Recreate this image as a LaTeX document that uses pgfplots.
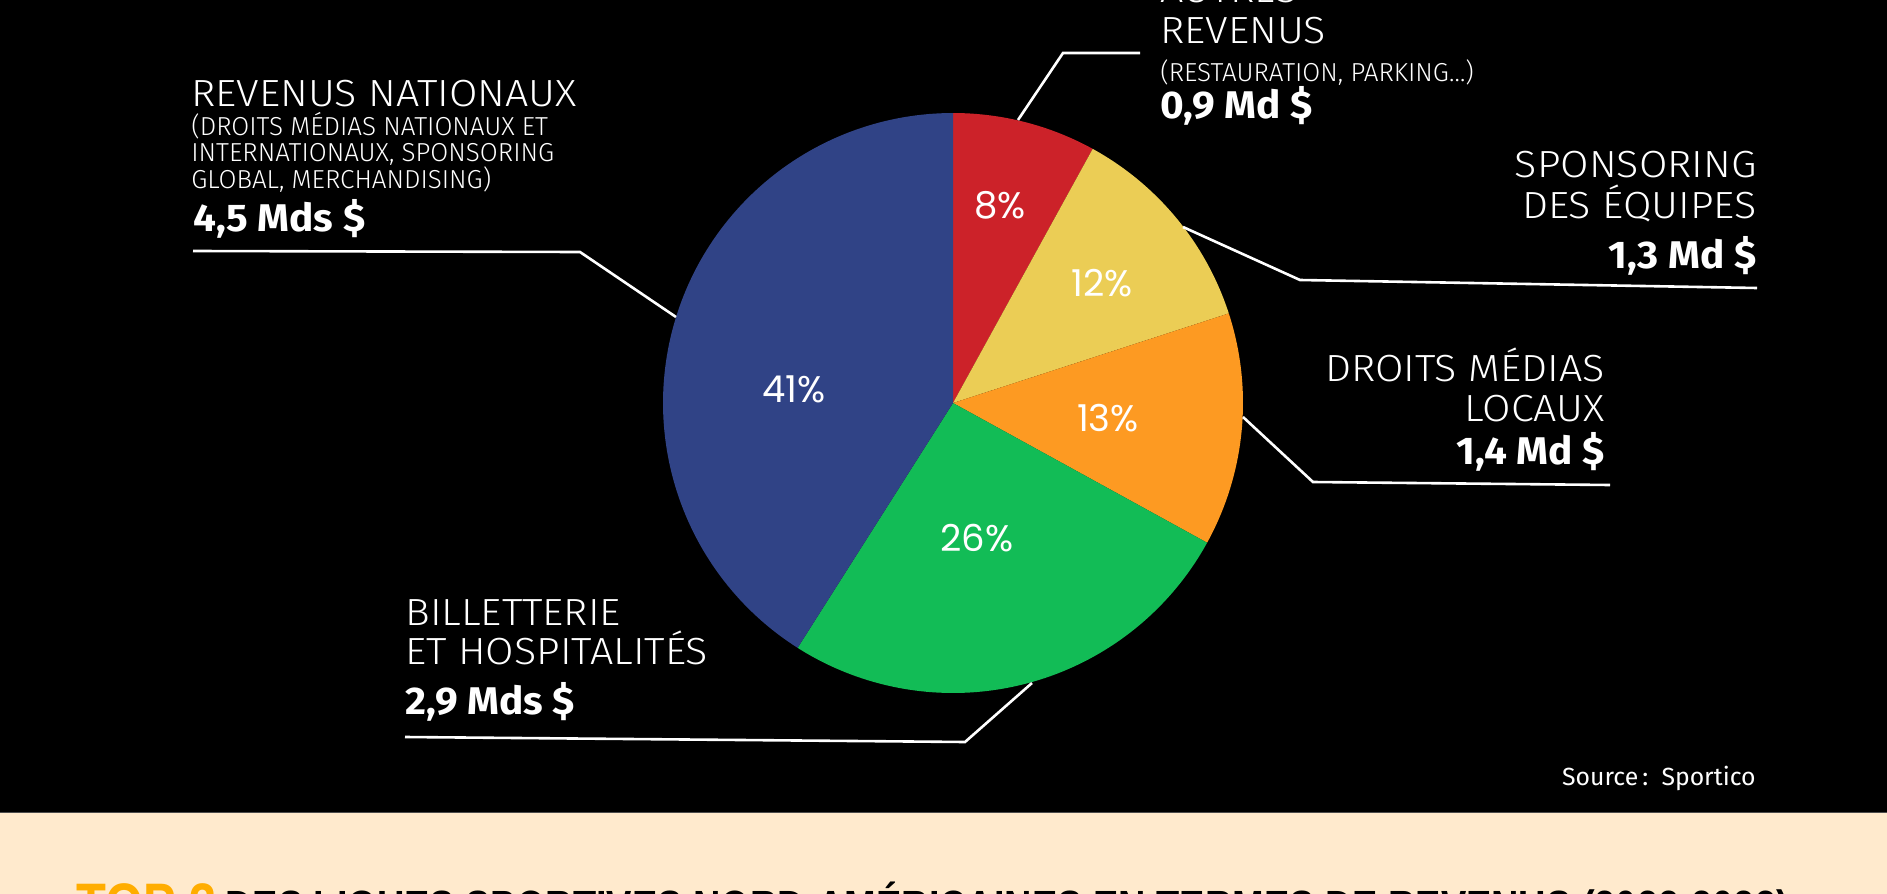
\documentclass[border=0pt]{standalone}
\usepackage{pgfplots}
\pgfplotsset{compat=1.18}
\usepackage{graphicx}
\usepackage{fontspec}
\setmainfont{Fira Sans}[UprightFont=* Light, BoldFont=* Bold]
\newfontfamily\popp{Poppins}
\newfontfamily\regfont{Fira Sans}
\newfontfamily\heavyfont{Liberation Sans}[BoldFont=Liberation Sans Bold]
\definecolor{cred}{HTML}{CC2229}
\definecolor{cyellow}{HTML}{EBCD55}
\definecolor{corange}{HTML}{FD9A22}
\definecolor{cgreen}{HTML}{12BC56}
\definecolor{cblue}{HTML}{304386}
\definecolor{cbeige}{HTML}{FFEACD}
\definecolor{ctop}{HTML}{FFAD00}
% shares in percent
\def\pA{8}\def\pB{12}\def\pC{13}\def\pD{26}\def\pE{41}
\pgfmathsetmacro\aO{90}
\pgfmathsetmacro\aA{\aO-3.6*\pA}
\pgfmathsetmacro\aB{\aA-3.6*\pB}
\pgfmathsetmacro\aC{\aB-3.6*\pC}
\pgfmathsetmacro\aD{\aC-3.6*\pD}
\pgfmathsetmacro\aE{\aD-3.6*\pE}
\newcommand{\lblbig}{\fontsize{18.9}{21}\selectfont}
\newcommand{\lblsub}{\fontsize{13}{15}\selectfont}
\newcommand{\lblval}{\bfseries\fontsize{19.3}{21}\selectfont}
\newcommand{\wide}[1]{\scalebox{1.09}[1]{#1}}
\newcommand{\vwide}[1]{\scalebox{1.05}[1]{#1}}
\begin{document}
\begin{tikzpicture}
\begin{axis}[name=ax,
  width=943.5pt, height=447pt, scale only axis,
  xmin=0, xmax=1887, ymin=0, ymax=894, y dir=reverse,
  hide axis, clip=false]
\fill[black] (0,0) rectangle (1887,812);
\fill[cbeige] (0,812) rectangle (1887,894);
\draw[gray!60!black, line width=0.6pt] (0,812.5) -- (1887,812.5);
% pie
\addplot[draw=none, fill=cred, domain=\aA:\aO, samples=60, variable=\t] ({953+290*cos(\t)},{403-290*sin(\t)}) -- (953,403) -- cycle;
\addplot[draw=none, fill=cyellow, domain=\aB:\aA, samples=60, variable=\t] ({953+290*cos(\t)},{403-290*sin(\t)}) -- (953,403) -- cycle;
\addplot[draw=none, fill=corange, domain=\aC:\aB, samples=60, variable=\t] ({953+290*cos(\t)},{403-290*sin(\t)}) -- (953,403) -- cycle;
\addplot[draw=none, fill=cgreen, domain=\aD:\aC, samples=80, variable=\t] ({953+290*cos(\t)},{403-290*sin(\t)}) -- (953,403) -- cycle;
\addplot[draw=none, fill=cblue, domain=\aE:\aD, samples=120, variable=\t] ({953+290*cos(\t)},{403-290*sin(\t)}) -- (953,403) -- cycle;
% percentages
\begin{scope}[every node/.style={text=white, font=\popp\fontsize{18.5}{18.5}\selectfont}]
\node at (1000,205) {8\%};
\node at (1102,283) {12\%};
\node at (1108,418) {13\%};
\node at (977,538) {26\%};
\node at (794,389) {41\%};
\end{scope}
% leader lines
\begin{scope}[white, line width=1.3pt]
\draw (1018,120) -- (1063,53) -- (1140,53);
\draw (1183,227) -- (1300,280) -- (1757,288);
\draw (1243,417) -- (1313,482) -- (1610,485);
\draw (1032,683) -- (965,742) -- (405,737);
\draw (676,317) -- (580,252) -- (193,251);
\end{scope}
% labels
\begin{scope}[every node/.style={text=white, inner sep=0pt}]
\node[anchor=base west, font=\lblbig] at (1160,3) {\wide{AUTRES}};
\node[anchor=base west, font=\lblbig] at (1160,43) {\wide{REVENUS}};
\node[anchor=base west, font=\lblsub] at (1160,82) {(RESTAURATION, PARKING…)};
\node[anchor=base west, font=\lblval] at (1160,119) {\vwide{0,9 Md \$}};
\node[anchor=base east, font=\lblbig] at (1757,177) {\wide{SPONSORING}};
\node[anchor=base east, font=\lblbig] at (1757,218) {\wide{DES ÉQUIPES}};
\node[anchor=base east, font=\lblval] at (1757,268) {\vwide{1,3 Md \$}};
\node[anchor=base east, font=\lblbig] at (1605,381) {\wide{DROITS MÉDIAS}};
\node[anchor=base east, font=\lblbig] at (1605,421) {\wide{LOCAUX}};
\node[anchor=base east, font=\lblval] at (1605,464) {\vwide{1,4 Md \$}};
\node[anchor=base west, font=\lblbig] at (405,625) {\wide{BILLETTERIE}};
\node[anchor=base west, font=\lblbig] at (405,664) {\wide{ET HOSPITALITÉS}};
\node[anchor=base west, font=\lblval] at (405,714) {\vwide{2,9 Mds \$}};
\node[anchor=base west, font=\lblbig] at (191,106) {\wide{REVENUS NATIONAUX}};
\node[anchor=base west, font=\lblsub] at (191,135) {(DROITS MÉDIAS NATIONAUX ET};
\node[anchor=base west, font=\lblsub] at (191,161) {INTERNATIONAUX, SPONSORING};
\node[anchor=base west, font=\lblsub] at (191,188) {GLOBAL, MERCHANDISING)};
\node[anchor=base west, font=\lblval] at (193,231) {\vwide{4,5 Mds \$}};
\node[anchor=base east, font=\regfont\fontsize{12.4}{14}\selectfont] at (1756,785) {Source\,:\ \ Sportico};
\node[anchor=base west, text=ctop, font=\heavyfont\bfseries\fontsize{30}{30}\selectfont] at (76,925) {\scalebox{0.815}[1]{TOP 3}};
\node[anchor=base west, text=black, font=\heavyfont\bfseries\fontsize{24}{24}\selectfont] at (225,924) {\scalebox{0.79}[1]{DES LIGUES SPORTIVES NORD-AMÉRICAINES EN TERMES DE REVENUS (2022-2023)}};
\end{scope}
\end{axis}
\pgfresetboundingbox
\path[use as bounding box] (ax.south west) rectangle (ax.north east);
\end{tikzpicture}
\end{document}
